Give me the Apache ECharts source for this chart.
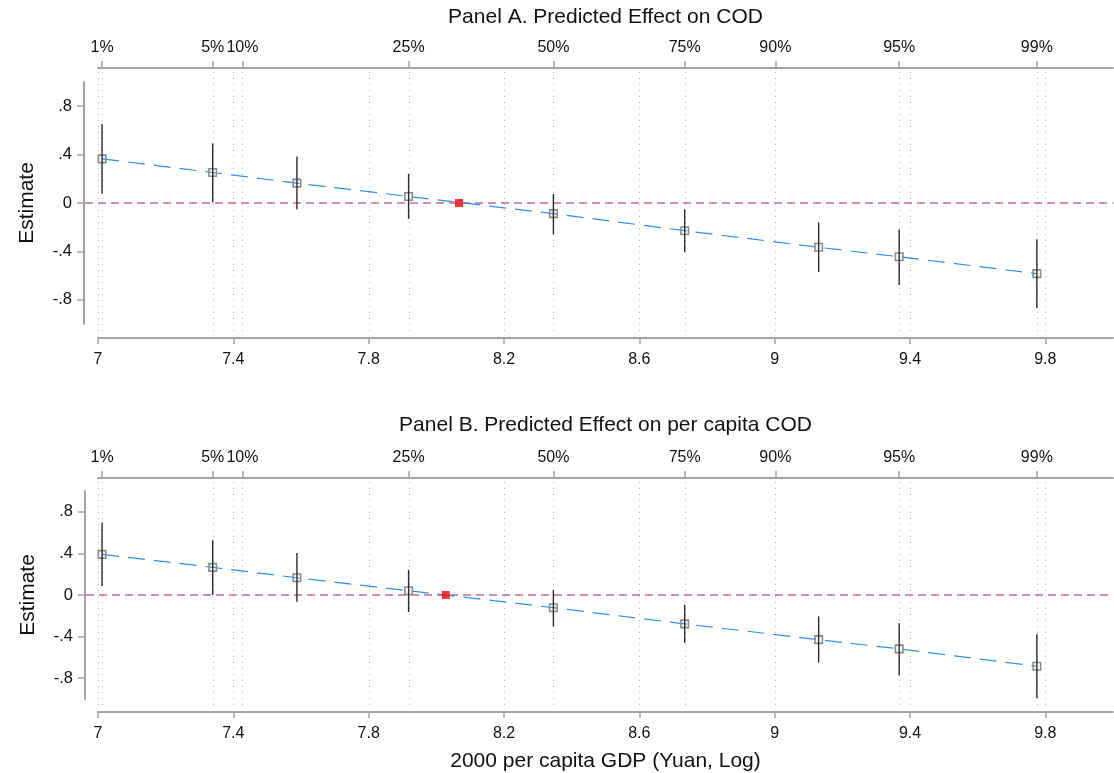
<!DOCTYPE html>
<html>
<head>
<meta charset="utf-8">
<script src="https://cdn.jsdelivr.net/npm/echarts@6/dist/echarts.min.js"></script>
<style>
  html, body { margin: 0; padding: 0; background: #ffffff; }
  #chart { width: 1114px; height: 773px; }
</style>
</head>
<body>
<div id="chart"></div>
<script>
// ---------------- data ----------------
const panelTitles = ['Panel A. Predicted Effect on COD', 'Panel B. Predicted Effect on per capita COD'];
const xTitle = '2000 per capita GDP (Yuan, Log)';
const yTitle = 'Estimate';

// log GDP at which effects are evaluated
const xPoints = [7.012, 7.339, 7.588, 7.918, 8.346, 8.734, 9.130, 9.368, 9.775];

// Panel A
const estA = [0.365, 0.252, 0.164, 0.054, -0.088, -0.229, -0.366, -0.444, -0.584];
const loA  = [0.076, 0.004, -0.054, -0.131, -0.259, -0.405, -0.570, -0.678, -0.868];
const hiA  = [0.652, 0.493, 0.385, 0.241, 0.074, -0.052, -0.160, -0.218, -0.300];
const zeroCrossA = [8.067, 0];

// Panel B
const estB = [0.391, 0.266, 0.166, 0.041, -0.122, -0.278, -0.429, -0.518, -0.685];
const loB  = [0.086, 0.000, -0.064, -0.163, -0.304, -0.461, -0.650, -0.774, -0.992];
const hiB  = [0.698, 0.525, 0.403, 0.240, 0.048, -0.093, -0.205, -0.272, -0.377];
const zeroCrossB = [8.028, 0];

// axes
const xTickValues = [7, 7.4, 7.8, 8.2, 8.6, 9, 9.4, 9.8];
const xTickLabels = ['7', '7.4', '7.8', '8.2', '8.6', '9', '9.4', '9.8'];
const pctValues = [7.012, 7.339, 7.427, 7.918, 8.346, 8.734, 9.002, 9.368, 9.775];
const pctLabels = ['1%', '5%', '10%', '25%', '50%', '75%', '90%', '95%', '99%'];
const yTickValues = [-0.8, -0.4, 0, 0.4, 0.8];
const yTickLabels = ['-.8', '-.4', '0', '.4', '.8'];
const xMin = 7, xMax = 10, yMin = -1, yMax = 1;
const refY = 0;

// ---------------- helpers ----------------
const FONT = "'Liberation Sans', Arial, sans-serif";
const AXIS_GRAY = '#a3a3a3';
const TEXT = '#111111';

function lookup(values, labels) {
  return function (v) {
    for (let i = 0; i < values.length; i++) {
      if (Math.abs(values[i] - v) < 1e-6) return labels[i];
    }
    return '';
  };
}

const panels = [
  { top: 82, height: 242, off: 14, est: estA, lo: loA, hi: hiA, red: zeroCrossA, title: panelTitles[0], xName: '' , titleGap: 40},
  { top: 491, height: 208, off: 13, est: estB, lo: loB, hi: hiB, red: zeroCrossB, title: panelTitles[1], xName: xTitle, titleGap: 42}
];

const grids = [], xAxes = [], yAxes = [], series = [];

panels.forEach((p, k) => {
  grids.push({ left: 98, right: 1, top: p.top, height: p.height, containLabel: false });

  const axisCommon = {
    gridIndex: k, type: 'value', min: xMin, max: xMax, offset: p.off,
    axisLine: { show: true, onZero: false, lineStyle: { color: AXIS_GRAY, width: 2 } },
    splitLine: { show: false }
  };
  // bottom axis
  xAxes.push(Object.assign({}, axisCommon, {
    position: 'bottom',
    axisTick: { show: true, customValues: xTickValues, length: 6, lineStyle: { color: AXIS_GRAY, width: 1.5 } },
    axisLabel: { show: true, customValues: xTickValues, formatter: lookup(xTickValues, xTickLabels),
      fontSize: 16, fontFamily: FONT, color: TEXT, margin: 14 },
    name: p.xName, nameLocation: 'middle', nameGap: 39,
    nameTextStyle: { fontSize: 21, fontFamily: FONT, color: TEXT }
  }));
  // top percentile axis
  xAxes.push(Object.assign({}, axisCommon, {
    position: 'top',
    axisTick: { show: true, customValues: pctValues, length: 7, lineStyle: { color: AXIS_GRAY, width: 1.5 } },
    axisLabel: { show: true, customValues: pctValues, formatter: lookup(pctValues, pctLabels),
      fontSize: 16, fontFamily: FONT, color: TEXT, margin: 12 },
    name: p.title, nameLocation: 'middle', nameGap: p.titleGap,
    nameTextStyle: { fontSize: 21, fontFamily: FONT, color: TEXT }
  }));
  yAxes.push({
    gridIndex: k, type: 'value', min: yMin, max: yMax, position: 'left', offset: p.off,
    axisLine: { show: true, onZero: false, lineStyle: { color: AXIS_GRAY, width: 2 } },
    axisTick: { show: true, customValues: yTickValues, length: 7, lineStyle: { color: AXIS_GRAY, width: 1.5 } },
    axisLabel: { show: true, customValues: yTickValues, formatter: lookup(yTickValues, yTickLabels),
      fontSize: 16.5, fontFamily: FONT, color: TEXT, margin: 12 },
    splitLine: { show: false },
    name: yTitle, nameLocation: 'middle', nameGap: 46, nameRotate: 90,
    nameTextStyle: { fontSize: 21, fontFamily: FONT, color: TEXT }
  });

  const xb = 2 * k, yi = k;
  const ext = p.off - 4;

  // dotted vertical grid lines at both axes' ticks
  const gridVals = xTickValues.concat(pctValues).map(v => [v, refY]);
  series.push({
    type: 'custom', xAxisIndex: xb, yAxisIndex: yi, clip: false, silent: true, z: 1,
    data: gridVals,
    renderItem: function (params, api) {
      const cs = params.coordSys;
      const x = Math.round(api.coord([api.value(0), api.value(1)])[0]) + 0.5;
      return { type: 'line', shape: { x1: x, y1: cs.y - ext, x2: x, y2: cs.y + cs.height + ext },
        style: { stroke: '#b5b5b5', lineWidth: 1, lineDash: [1, 5] } };
    }
  });

  // zero reference line
  series.push({
    type: 'custom', xAxisIndex: xb, yAxisIndex: yi, clip: false, silent: true, z: 2,
    data: [[xMin, refY]],
    renderItem: function (params, api) {
      const cs = params.coordSys;
      const y = api.coord([api.value(0), api.value(1)])[1];
      return { type: 'line', shape: { x1: cs.x - p.off + 1, y1: y, x2: cs.x + cs.width, y2: y },
        style: { stroke: '#d38db2', lineWidth: 2, lineDash: [8, 5] } };
    }
  });

  // fitted dashed line with hollow square markers
  series.push({
    type: 'line', xAxisIndex: xb, yAxisIndex: yi, z: 3,
    data: xPoints.map((x, i) => [x, p.est[i]]),
    symbol: 'rect', symbolSize: 7.5, showSymbol: true, showAllSymbol: true,
    lineStyle: { color: '#2b8ff5', width: 1.2, type: [17, 9] },
    itemStyle: { color: 'rgba(255,255,255,0)', borderColor: '#8a8a8a', borderWidth: 1.6 },
    emphasis: { disabled: true }
  });

  // error bars
  series.push({
    type: 'custom', xAxisIndex: xb, yAxisIndex: yi, clip: false, z: 4,
    data: xPoints.map((x, i) => [x, p.lo[i], p.hi[i]]),
    encode: { x: 0, y: [1, 2] },
    renderItem: function (params, api) {
      const a = api.coord([api.value(0), api.value(1)]);
      const b = api.coord([api.value(0), api.value(2)]);
      return { type: 'line', shape: { x1: a[0], y1: a[1], x2: b[0], y2: b[1] },
        style: { stroke: '#2a2a2a', lineWidth: 1.4 } };
    }
  });

  // zero-crossing point
  series.push({
    type: 'scatter', xAxisIndex: xb, yAxisIndex: yi, z: 5,
    data: [p.red], symbol: 'rect', symbolSize: 8,
    itemStyle: { color: '#ff0000' }
  });
});

const chart = echarts.init(document.getElementById('chart'), null, { renderer: 'canvas' });
chart.setOption({
  animation: false,
  backgroundColor: '#ffffff',
  textStyle: { fontFamily: FONT },
  grid: grids,
  xAxis: xAxes,
  yAxis: yAxes,
  series: series
});
</script>
</body>
</html>
